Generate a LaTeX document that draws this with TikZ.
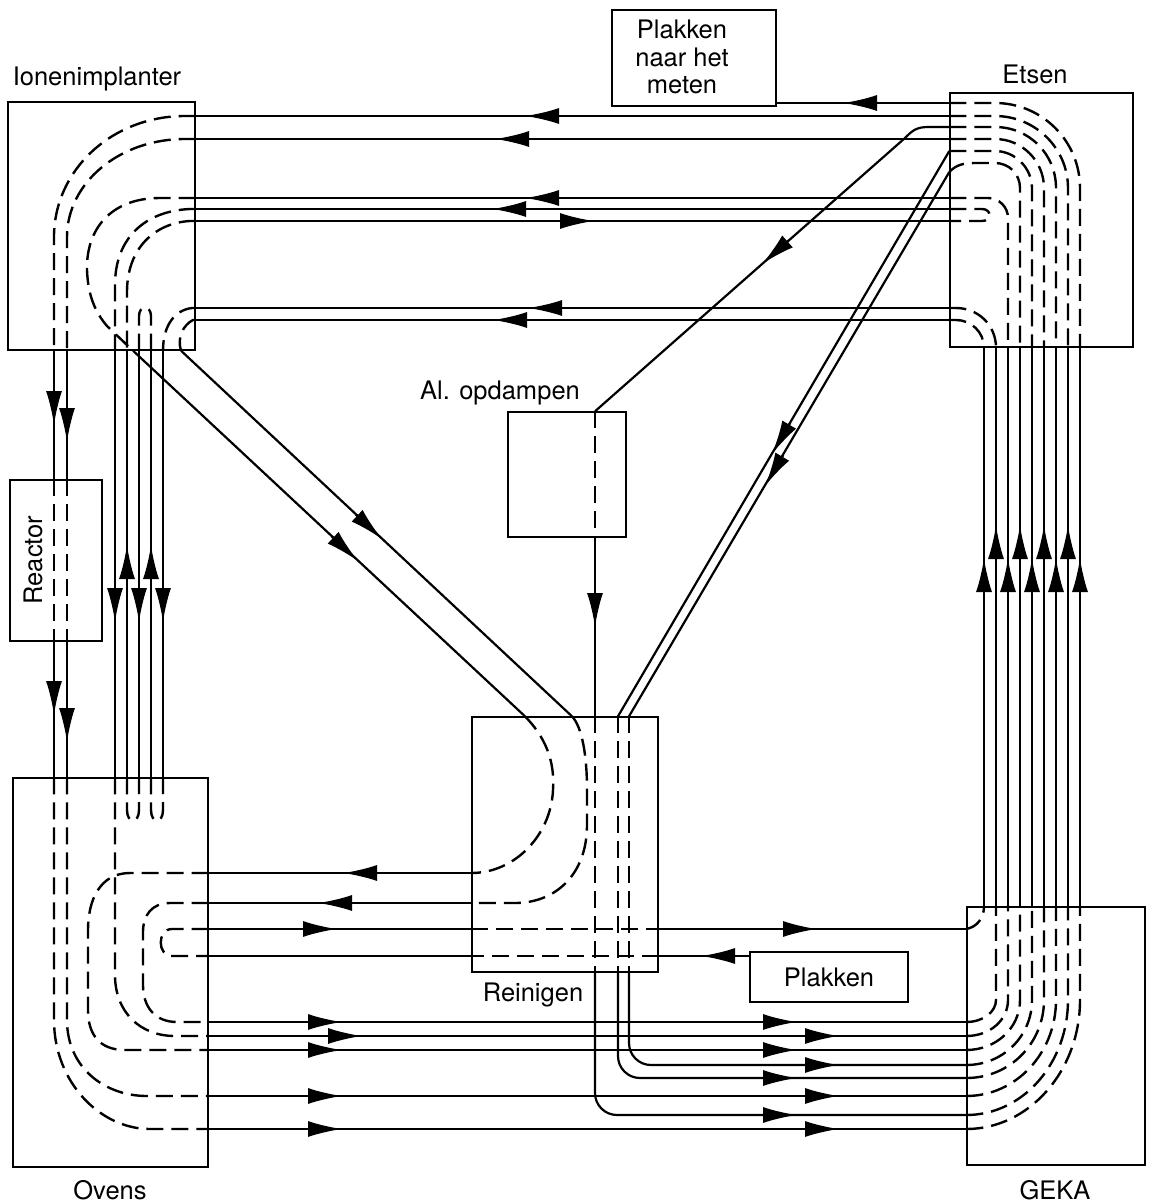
\documentclass[tikz,border=0pt]{standalone}
\usepackage{fontspec}
\setmainfont{TeX Gyre Heros}
\usetikzlibrary{arrows.meta}
\begin{document}
\begin{tikzpicture}[x=1bp,y=-1bp,
  box/.style={draw, line width=1.4bp, inner sep=0pt},
  lbl/.style={font=\fontsize{25.5bp}{27.5bp}\selectfont, inner sep=0pt},
  ln/.style={line width=2.2bp},
  dsh/.style={line width=2.4bp, dash pattern=on 17bp off 8bp},
  tipst/.style={line width=2.2bp, -{Latex[length=34bp,width=16bp]}},
]
\newcommand\myarw[4]{\draw[tipst] ({#1-36*(#3)},{#2-36*(#4)}) -- (#1,#2);}
\useasboundingbox (0,0) rectangle (1153,1203);

% ---------- boxes ----------
\node[box, minimum width=187bp, minimum height=248bp] (ion) at (101.5,226) {};
\node[box, minimum width=183bp, minimum height=254bp] (ets) at (1041.5,220) {};
\node[box, minimum width=164bp, minimum height=96bp]  (pnm) at (694,58) {};
\node[box, minimum width=92bp,  minimum height=161bp] (rea) at (56,560.5) {};
\node[box, minimum width=195bp, minimum height=389bp] (ove) at (110.5,972.5) {};
\node[box, minimum width=178bp, minimum height=258bp] (gek) at (1056,1036) {};
\node[box, minimum width=186bp, minimum height=255bp] (rei) at (565,844.5) {};
\node[box, minimum width=118bp, minimum height=125bp] (alo) at (567,474.5) {};
\node[box, minimum width=158bp, minimum height=50bp]  (pla) at (829,977) {};

% ---------- labels ----------
\node[lbl] (tion) at (97,79) {Ionenimplanter};
\node[lbl] (tets) at (1035,74) {Etsen};
\node[lbl, align=center] (tpnm) at (682,57) {Plakken\\naar het\\meten};
\node[lbl] (talo) at (500,393) {Al. opdampen};
\node[lbl, rotate=90] (trea) at (33,560) {Reactor};
\node[lbl] (trei) at (533,995) {Reinigen};
\node[lbl] (tove) at (110,1190) {Ovens};
\node[lbl] (tgek) at (1055,1190) {GEKA};
\node[lbl] (tpla) at (829,977) {Plakken};

% ---------- top band Etsen <-> Ionenimplanter ----------
\draw[ln] (ets.west |- 0,116) -- (ion.east |- 0,116); \myarw{525}{116}{-1}{0}
\draw[ln] (ets.west |- 0,139) -- (ion.east |- 0,139); \myarw{495}{139}{-1}{0}
\draw[ln] (ets.west |- 0,198) -- (ion.east |- 0,198); \myarw{525}{198}{-1}{0}
\draw[ln] (ets.west |- 0,209) -- (ion.east |- 0,209); \myarw{492}{209}{-1}{0}
\draw[ln] (ion.east |- 0,221) -- (ets.west |- 0,221); \myarw{594}{221}{1}{0}
\draw[ln] (ets.west |- 0,308) -- (ion.east |- 0,308); \myarw{528}{308}{-1}{0}
\draw[ln] (ets.west |- 0,320) -- (ion.east |- 0,320); \myarw{493}{320}{-1}{0}

% Etsen -> Plakken naar het meten
\draw[ln] (ets.west |- 0,103) -- (pnm.east |- 0,103); \myarw{843}{103}{-1}{0}

% Etsen -> Al. opdampen -> Reinigen -> GEKA
\draw[ln] (ets.west |- 0,127) -- (928,127) .. controls (916,127) and (912,131) .. (905,138) -- (alo.north -| 595,0);
\myarw{762}{264}{-0.749}{0.662}
\draw[dsh] (alo.north -| 595,0) -- (alo.south -| 595,0);
\draw[ln] (alo.south -| 595,0) -- (rei.north -| 595,0); \myarw{595}{627}{0}{1}
\draw[dsh] (rei.north -| 595,0) -- (rei.south -| 595,0);
\draw[ln, rounded corners=22bp] (rei.south -| 595,0) -- (595,1115) -- (gek.west |- 0,1115); \myarw{797}{1115}{1}{0}

% Etsen -> Reinigen diagonals
\draw[ln] (ets.west |- 0,151) -- (rei.north -| 618,0); \myarw{772}{454}{-0.506}{0.863}
\draw[ln] (ets.west |- 0,172) -- (rei.north -| 629,0); \myarw{765}{486}{-0.5075}{0.8617}
\draw[dsh] (rei.north -| 618,0) -- (rei.south -| 618,0);
\draw[dsh] (rei.north -| 629,0) -- (rei.south -| 629,0);
\draw[ln, rounded corners=22bp] (rei.south -| 618,0) -- (618,1078) -- (gek.west |- 0,1078); \myarw{797}{1078}{1}{0}
\draw[ln, rounded corners=22bp] (rei.south -| 629,0) -- (629,1065) -- (gek.west |- 0,1065); \myarw{839}{1065}{1}{0}

% Ionenimplanter -> Reinigen diagonals
\draw[ln] (ion.south -| 133,0) -- (rei.north -| 525,0); \myarw{358}{561}{0.730}{0.683}
\draw[ln] (ion.south -| 181,0) -- (rei.north -| 572,0); \myarw{382}{539}{0.730}{0.683}

% Reinigen interior
\draw[dsh] (rei.north -| 525,0) .. controls (545,737) and (555,760) .. (553,790) .. controls (551,835) and (515,873) .. (rei.west |- 0,873);
\draw[dsh] (rei.north -| 572,0) .. controls (582,727) and (587,755) .. (587,790) -- (587,825) .. controls (587,875) and (555,903) .. (515,903) -- (rei.west |- 0,903);
\draw[dsh] (rei.west |- 0,929) -- (rei.east |- 0,929);
\draw[dsh] (rei.east |- 0,956) -- (rei.west |- 0,956);

% Reinigen -> Ovens
\draw[ln] (rei.west |- 0,873) -- (ove.east |- 0,873); \myarw{343}{873}{-1}{0}
\draw[ln] (rei.west |- 0,903) -- (ove.east |- 0,903); \myarw{318}{903}{-1}{0}
% Ovens -> Reinigen -> GEKA (929), Plakken -> Reinigen -> Ovens (956)
\draw[ln] (ove.east |- 0,929) -- (rei.west |- 0,929); \myarw{337}{929}{1}{0}
\draw[ln] (rei.east |- 0,929) -- (gek.west |- 0,929); \myarw{817}{929}{1}{0}
\draw[ln] (pla.west |- 0,956) -- (rei.east |- 0,956); \myarw{701}{956}{-1}{0}
\draw[ln] (rei.west |- 0,956) -- (ove.east |- 0,956);

% Ovens -> GEKA
\draw[ln] (ove.east |- 0,1022) -- (gek.west |- 0,1022); \myarw{342}{1022}{1}{0} \myarw{797}{1022}{1}{0}
\draw[ln] (ove.east |- 0,1036) -- (gek.west |- 0,1036); \myarw{362}{1036}{1}{0} \myarw{839}{1036}{1}{0}
\draw[ln] (ove.east |- 0,1050) -- (gek.west |- 0,1050); \myarw{342}{1050}{1}{0} \myarw{797}{1050}{1}{0}
\draw[ln] (ove.east |- 0,1096) -- (gek.west |- 0,1096); \myarw{342}{1096}{1}{0} \myarw{839}{1096}{1}{0}
\draw[ln] (ove.east |- 0,1129) -- (gek.west |- 0,1129); \myarw{342}{1129}{1}{0} \myarw{839}{1129}{1}{0}

% Ovens interior
\draw[dsh] (ove.east |- 0,873) -- (130,873) .. controls (100,873) and (88,900) .. (88,930) -- (88,1010) .. controls (88,1035) and (100,1050) .. (125,1050) -- (ove.east |- 0,1050);
\draw[dsh] (ove.east |- 0,903) -- (170,903) .. controls (152,903) and (143,915) .. (143,932) -- (143,985) .. controls (143,1007) and (155,1022) .. (177,1022) -- (ove.east |- 0,1022);
\draw[dsh] (ove.east |- 0,929) -- (172,929) .. controls (157,929) and (157,956) .. (172,956) -- (ove.east |- 0,956);
\draw[dsh] (ove.north -| 115,0) -- (115,975) .. controls (115,1012) and (140,1036) .. (175,1036) -- (ove.east |- 0,1036);
\draw[dsh] (ove.north -| 54,0) -- (54,1020) .. controls (54,1082) and (100,1129) .. (150,1129) -- (ove.east |- 0,1129);
\draw[dsh] (ove.north -| 67,0) -- (67,1020) .. controls (67,1068) and (105,1096) .. (147,1096) -- (ove.east |- 0,1096);
\draw[dsh] (ove.north -| 127,0) -- (127,810) .. controls (127,824) and (139,824) .. (139,810) -- (ove.north -| 139,0);
\draw[dsh] (ove.north -| 151,0) -- (151,810) .. controls (151,824) and (163,824) .. (163,810) -- (ove.north -| 163,0);

% Ionenimplanter -> Ovens verticals
\draw[ln] (ion.south -| 115,0) -- (ove.north -| 115,0); \myarw{115}{622}{0}{1}
\draw[ln] (ion.south -| 127,0) -- (ove.north -| 127,0); \myarw{127}{545}{0}{-1}
\draw[ln] (ion.south -| 139,0) -- (ove.north -| 139,0); \myarw{139}{622}{0}{1}
\draw[ln] (ion.south -| 151,0) -- (ove.north -| 151,0); \myarw{151}{545}{0}{-1}
\draw[ln] (ion.south -| 163,0) -- (ove.north -| 163,0); \myarw{163}{622}{0}{1}

% Ionenimplanter -> Reactor -> Ovens
\draw[ln] (ion.south -| 54,0) -- (rea.north -| 54,0); \myarw{54}{425}{0}{1}
\draw[ln] (ion.south -| 67,0) -- (rea.north -| 67,0); \myarw{67}{442}{0}{1}
\draw[dsh] (rea.north -| 54,0) -- (rea.south -| 54,0);
\draw[dsh] (rea.north -| 67,0) -- (rea.south -| 67,0);
\draw[ln] (rea.south -| 54,0) -- (ove.north -| 54,0); \myarw{54}{715}{0}{1}
\draw[ln] (rea.south -| 67,0) -- (ove.north -| 67,0); \myarw{67}{742}{0}{1}

% Ionenimplanter interior
\draw[dsh] (ion.east |- 0,116) -- (185,116) .. controls (112,116) and (54,170) .. (54,237) -- (ion.south -| 54,0);
\draw[dsh] (ion.east |- 0,139) -- (185,139) .. controls (119,139) and (67,183) .. (67,237) -- (ion.south -| 67,0);
\draw[dsh] (ion.east |- 0,198) -- (160,198) .. controls (110,198) and (86,230) .. (87,270) .. controls (88,297) and (96,313) .. (107,326) -- (ion.south -| 133,0);
\draw[dsh] (ion.east |- 0,209) -- (190,209) .. controls (145,211) and (115,238) .. (115,285) -- (ion.south -| 115,0);
\draw[dsh] (ion.east |- 0,221) -- (190,221) .. controls (155,223) and (127,248) .. (127,292) -- (ion.south -| 127,0);
\draw[dsh] (ion.south -| 139,0) -- (139,316) .. controls (139,305) and (151,305) .. (151,316) -- (ion.south -| 151,0);
\draw[dsh] (ion.east |- 0,308) -- (192,308) .. controls (175,310) and (163,325) .. (ion.south -| 163,0);
\draw[dsh] (ion.east |- 0,320) -- (193,320) .. controls (183,325) and (177,338) .. (ion.south -| 181,0);

% Etsen interior
\draw[dsh] (ets.west |- 0,103) -- (995,103) .. controls (1042,103) and (1080,141) .. (1080,188) -- (ets.south -| 1080,0);
\draw[dsh] (ets.west |- 0,116) -- (995,116) .. controls (1035,116) and (1068,148) .. (1068,188) -- (ets.south -| 1068,0);
\draw[dsh] (ets.west |- 0,127) -- (995,127) .. controls (1029,127) and (1056,154) .. (1056,188) -- (ets.south -| 1056,0);
\draw[dsh] (ets.west |- 0,139) -- (995,139) .. controls (1022,139) and (1044,161) .. (1044,188) -- (ets.south -| 1044,0);
\draw[dsh] (ets.west |- 0,151) -- (995,151) .. controls (1015,151) and (1032,168) .. (1032,188) -- (ets.south -| 1032,0);
\draw[dsh] (ets.west |- 0,172) .. controls (956,165) and (963,163) .. (975,163) -- (995,163) .. controls (1009,163) and (1020,174) .. (1020,188) -- (ets.south -| 1020,0);
\draw[dsh] (ets.west |- 0,198) -- (988,198) .. controls (999,198) and (1008,207) .. (1008,218) -- (ets.south -| 1008,0);
\draw[dsh] (ets.west |- 0,209) -- (982,209) .. controls (992,209) and (992,221) .. (982,221) -- (ets.west |- 0,221);
\draw[dsh] (ets.west |- 0,308) -- (956,308) .. controls (978,308) and (996,325) .. (ets.south -| 996,0);
\draw[dsh] (ets.west |- 0,320) -- (956,320) .. controls (971,320) and (984,332) .. (ets.south -| 984,0);

% GEKA -> Etsen verticals
\foreach \vx in {984,996,1008,1020,1032,1044,1056,1068,1080}
  \draw[ln] (gek.north -| \vx,0) -- (ets.south -| \vx,0);
\foreach \vx in {996,1020,1044,1068} {\myarw{\vx}{525}{0}{-1}}
\foreach \vx in {984,1008,1032,1056,1080} {\myarw{\vx}{558}{0}{-1}}

% GEKA interior
\draw[dsh] (gek.west |- 0,929) .. controls (977,927) and (984,918) .. (gek.north -| 984,0);
\draw[dsh] (gek.west |- 0,1022) .. controls (983,1022) and (996,1012) .. (996,1000) -- (gek.north -| 996,0);
\draw[dsh] (gek.west |- 0,1036) .. controls (990,1036) and (1008,1020) .. (1008,1000) -- (gek.north -| 1008,0);
\draw[dsh] (gek.west |- 0,1050) .. controls (996,1050) and (1020,1028) .. (1020,1000) -- (gek.north -| 1020,0);
\draw[dsh] (gek.west |- 0,1065) .. controls (1003,1065) and (1032,1036) .. (1032,1000) -- (gek.north -| 1032,0);
\draw[dsh] (gek.west |- 0,1078) .. controls (1010,1078) and (1044,1043) .. (1044,1000) -- (gek.north -| 1044,0);
\draw[dsh] (gek.west |- 0,1096) .. controls (1016,1096) and (1056,1053) .. (1056,1000) -- (gek.north -| 1056,0);
\draw[dsh] (gek.west |- 0,1115) .. controls (1023,1115) and (1068,1063) .. (1068,1000) -- (gek.north -| 1068,0);
\draw[dsh] (gek.west |- 0,1129) .. controls (1029,1129) and (1080,1071) .. (1080,1000) -- (gek.north -| 1080,0);
\end{tikzpicture}
\end{document}
